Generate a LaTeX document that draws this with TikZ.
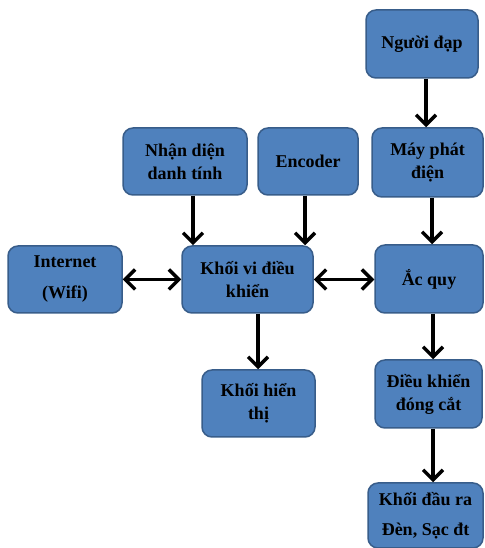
\documentclass[tikz,border=0pt]{standalone}
\usepackage{fontspec}
\setmainfont{Liberation Serif}
\usetikzlibrary{arrows.meta, calc}
\definecolor{boxfill}{HTML}{4F81BD}
\definecolor{boxline}{HTML}{385D8A}
\tikzset{
  blocknode/.style={
    rectangle, draw=boxline, fill=boxfill, line width=1.5pt, rounded corners=10pt,
    align=center, font=\fontsize{18}{23}\selectfont\bfseries, inner sep=2pt
  },
  barb/.tip={Straight Barb[length=10pt, width=20pt, line width=3.5pt]},
  link/.style={-barb, line width=3.5pt},
  both/.style={barb-barb, line width=3.5pt}
}

\begin{document}
\begin{tikzpicture}[x=1pt, y=1pt]
    \useasboundingbox (0,0) rectangle (484,548);
    
    % top row
    \node[blocknode, minimum width=112pt, minimum height=68pt] (rider) at (422,504) {Người đạp};
    \node[blocknode, minimum width=124pt, minimum height=67pt] (ident) at (185,386.5) {Nhận diện\\danh tính};
    \node[blocknode, minimum width=100pt, minimum height=67pt] (enc) at (308,386.5) {Encoder};
    \node[blocknode, minimum width=111pt, minimum height=69pt] (gen) at (427.5,385.5) {Máy phát\\điện};
    
    % middle row
    \node[blocknode, minimum width=114pt, minimum height=67pt, font=\fontsize{18}{31}\selectfont\bfseries] (net) at (65,268.5) {Internet\\(Wifi)};
    \node[blocknode, minimum width=131pt, minimum height=67pt] (mcu) at (247.5,268.5) {Khối vi điều\\khiển};
    \node[blocknode, minimum width=108pt, minimum height=68pt] (batt) at (429,269) {Ắc quy};
    
    % bottom
    \node[blocknode, minimum width=113pt, minimum height=67pt] (disp) at (258.5,144.5) {Khối hiển\\thị};
    \node[blocknode, minimum width=107pt, minimum height=68pt] (sw) at (428.5,154) {Điều khiển\\đóng cắt};
    \node[blocknode, minimum width=115pt, minimum height=65pt, font=\fontsize{18}{30}\selectfont\bfseries] (out) at (425.5,32.5) {Khối đầu ra\\Đèn, Sạc đt};
    
    % connectors
    \draw[link] ([xshift=4pt]rider.south) -- ([xshift=4pt]rider.south |- gen.north);
    \draw[link] ([xshift=8pt]ident.south) -- ([xshift=8pt]ident.south |- mcu.north);
    \draw[link] ([xshift=-3pt]enc.south) -- ([xshift=-3pt]enc.south |- mcu.north);
    \draw[link] ([xshift=4.5pt]gen.south) -- ([xshift=4.5pt]gen.south |- batt.north);
    \draw[both] (net.east) -- (mcu.west);
    \draw[both] (mcu.east) -- (mcu.east -| batt.west);
    \draw[link] ([xshift=10.5pt]mcu.south) -- ([xshift=10.5pt]mcu.south |- disp.north);
    \draw[link] ([xshift=4pt]batt.south) -- ([xshift=4pt]batt.south |- sw.north);
    \draw[link] ([xshift=4.5pt]sw.south) -- ([xshift=4.5pt]sw.south |- out.north);
    
\end{tikzpicture}
\end{document}
